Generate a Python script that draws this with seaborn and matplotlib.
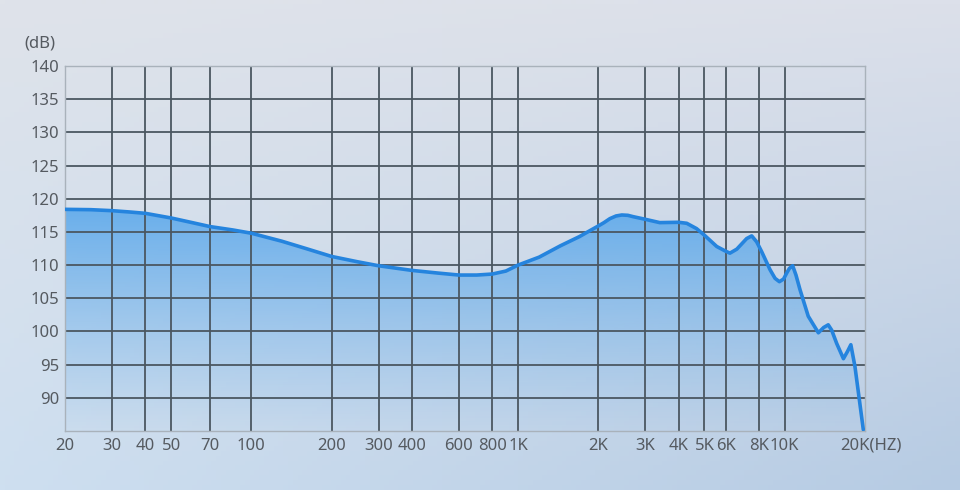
import numpy as np
import pandas as pd
import matplotlib
matplotlib.use("Agg")
import matplotlib.pyplot as plt
import matplotlib.transforms as mtransforms
from matplotlib.patches import PathPatch
import seaborn as sns

# ---- data ----
freqs = [20, 25, 30, 35, 40, 50, 60, 70, 85, 100, 130, 160, 200, 250, 300, 400,
         500, 600, 700, 800, 900, 1000, 1200, 1440, 1700, 1900, 2000, 2100, 2210,
         2330, 2450, 2580, 2700, 3000, 3400, 4000, 4290, 4670, 5000, 5560, 6000,
         6230, 6610, 7200, 7520, 7850, 8200, 8810, 9200, 9550, 9900, 10170, 10410,
         10710, 11020, 11410, 12250, 13370, 14000, 14560, 15000, 15660, 16600,
         17200, 17700, 18340, 19050, 19710]
spl_db = [118.4, 118.35, 118.2, 118.0, 117.8, 117.1, 116.4, 115.8, 115.3, 114.8,
          113.6, 112.5, 111.3, 110.5, 109.9, 109.2, 108.8, 108.5, 108.5, 108.65,
          109.1, 110.0, 111.2, 112.9, 114.3, 115.4, 115.9, 116.4, 117.0, 117.4,
          117.55, 117.5, 117.3, 116.9, 116.4, 116.45, 116.3, 115.5, 114.5, 112.8,
          112.1, 111.8, 112.4, 114.0, 114.4, 113.5, 112.0, 109.3, 108.0, 107.5,
          107.9, 108.8, 109.5, 109.9, 108.5, 106.3, 102.3, 99.8, 100.6, 101.0,
          100.2, 98.2, 95.9, 97.0, 98.0, 94.7, 89.7, 85.2]

x_ticks = [20, 30, 40, 50, 70, 100, 200, 300, 400, 600, 800, 1000, 2000, 3000,
           4000, 5000, 6000, 8000, 10000, 20000]
x_labels = ["20", "30", "40", "50", "70", "100", "200", "300", "400", "600", "800",
            "1K", "2K", "3K", "4K", "5K", "6K", "8K", "10K", "20K(HZ)"]
y_ticks = [90, 95, 100, 105, 110, 115, 120, 125, 130, 135, 140]
y_label = "(dB)"

df = pd.DataFrame({"freq": freqs, "db": spl_db})

sns.set_theme(style="white")
plt.rcParams["font.family"] = ["Noto Sans", "DejaVu Sans"]

fig = plt.figure(figsize=(9.6, 4.9), dpi=100)

# background gradient
bg = fig.add_axes([0, 0, 1, 1], zorder=-10)
bg.set_axis_off()
tl = np.array([0xdf, 0xe3, 0xea]) / 255
tr = np.array([0xdc, 0xe0, 0xea]) / 255
bl = np.array([0xce, 0xdf, 0xf0]) / 255
br = np.array([0xb6, 0xcb, 0xe3]) / 255
ny, nx = 100, 200
yy, xx = np.mgrid[0:1:ny * 1j, 0:1:nx * 1j]
img = (tl[None, None] * ((1 - xx) * (1 - yy))[..., None]
       + tr[None, None] * (xx * (1 - yy))[..., None]
       + bl[None, None] * ((1 - xx) * yy)[..., None]
       + br[None, None] * (xx * yy)[..., None])
bg.imshow(img, extent=[0, 1, 0, 1], aspect="auto", origin="upper")
bg.set_xlim(0, 1)
bg.set_ylim(0, 1)

ax = fig.add_axes([65 / 960, 1 - 431 / 490, 800 / 960, 365 / 490])
ax.set_facecolor("none")
ax.set_xscale("log")
ax.set_xlim(20, 20000)
ax.set_ylim(85, 140)

# gradient fill under curve
poly = ax.fill_between(df["freq"], df["db"], 85, color="none", linewidth=0)
path = poly.get_paths()[0]
patch = PathPatch(path, transform=ax.transData, facecolor="none", edgecolor="none")
ax.add_patch(patch)
grad = np.zeros((200, 1, 4))
t = np.linspace(0, 1, 200)[:, None]  # 0 top -> 1 bottom
base = np.array([0x4f, 0xa3, 0xeb]) / 255
grad[..., :3] = base
grad[..., 3] = 0.78 * (1 - t) ** 1.1 + 0.03
im = ax.imshow(grad, extent=[20, 20000, 85, 118.6], aspect="auto",
               origin="upper", zorder=1, interpolation="bilinear")
im.set_clip_path(patch)

# grid lines
for xt in x_ticks[1:-1]:
    ax.axvline(xt, color="#4b5761", lw=1.3, zorder=2)
for yt in y_ticks[:-1]:
    ax.axhline(yt, color="#4b5761", lw=1.3, zorder=2)

sns.lineplot(data=df, x="freq", y="db", ax=ax, color="#2584de", lw=2.6,
             zorder=4, solid_capstyle="round", solid_joinstyle="round")

for s in ["top", "right", "left", "bottom"]:
    ax.spines[s].set_visible(True)
    ax.spines[s].set_color("#a9b2bb")
    ax.spines[s].set_linewidth(1.0)

ax.set_xticks(x_ticks)
ax.set_xticklabels(x_labels)
ax.xaxis.set_minor_locator(matplotlib.ticker.NullLocator())
ax.set_yticks(y_ticks)
ax.set_yticklabels([str(v) for v in y_ticks])
ax.tick_params(axis="both", length=0, labelsize=12, labelcolor="#555a60")
ax.tick_params(axis="x", pad=5)
ax.tick_params(axis="y", pad=4)
ax.set_xlabel("")
ax.set_ylabel("")

# shift the last label so that "20K" sits near the right edge
last = ax.get_xticklabels()[-1]
last.set_transform(last.get_transform() + mtransforms.ScaledTranslation(6 / 100, 0, fig.dpi_scale_trans))

fig.text(24 / 960, 1 - 44 / 490, y_label, fontsize=12, color="#555a60",
         ha="left", va="center")

fig.savefig("out.png", dpi=100)
